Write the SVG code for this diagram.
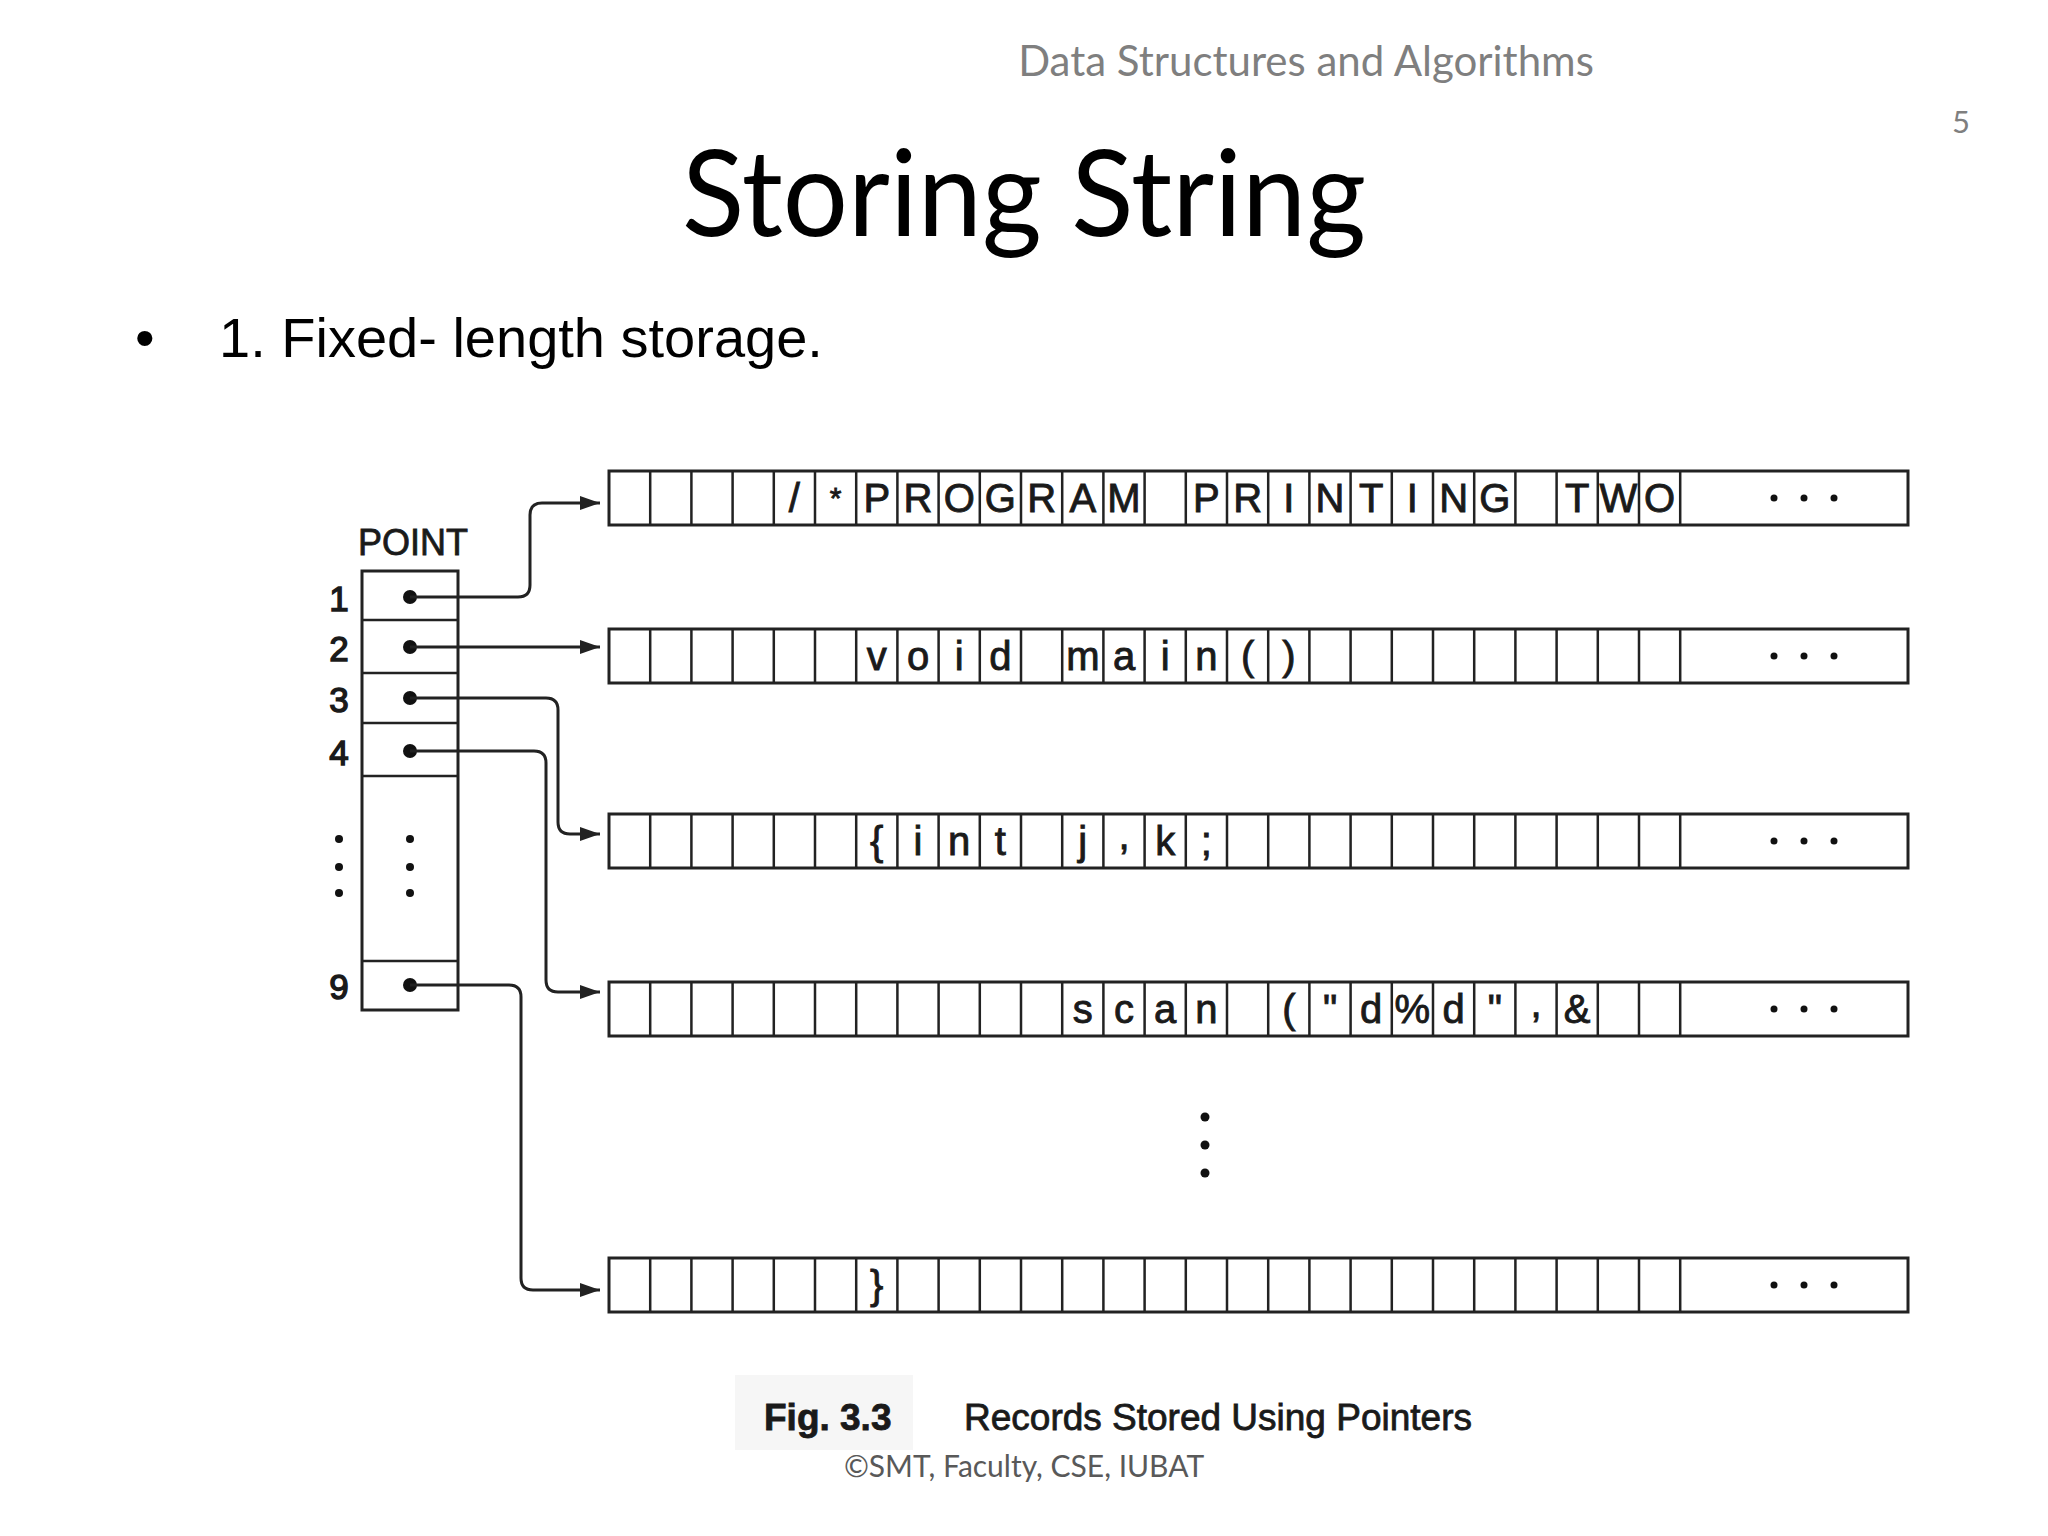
<svg xmlns="http://www.w3.org/2000/svg" xmlns:xlink="http://www.w3.org/1999/xlink" width="2048" height="1536" viewBox="0 0 2048 1536">
<style>
.hdr{font-family:Lato,"Open Sans","Noto Sans",sans-serif;fill:#7f7f7f}
.title{font-family:Lato,"Open Sans","Noto Sans",sans-serif;fill:#000}
.bul{font-family:"Liberation Sans",Arial,sans-serif;fill:#000;font-size:56px}
.fig{font-family:"Liberation Sans",Arial,sans-serif;fill:#1a1a1a;stroke:#1a1a1a;stroke-width:0.8}
.num{font-family:"Liberation Sans",Arial,sans-serif;fill:#1a1a1a;stroke:#1a1a1a;stroke-width:1.4;font-size:35px;text-anchor:middle}
.cell{font-family:"Liberation Sans",Arial,sans-serif;font-size:40px;fill:#1a1a1a;stroke:#1a1a1a;stroke-width:0.9;text-anchor:middle}
.row{fill:#fff;stroke:#222;stroke-width:3}
.div{fill:none;stroke:#222;stroke-width:2.5}
.conn{fill:none;stroke:#222;stroke-width:3}
.dot{fill:#111}
</style>
<defs>
<marker id="arr" markerUnits="userSpaceOnUse" markerWidth="22" markerHeight="16" refX="20" refY="7" orient="auto">
<path d="M0 0 L20 7 L0 14 Z" fill="#222"/>
</marker>
<path id="divs" class="div" d="M650.2 0v54M691.4 0v54M732.6 0v54M773.8 0v54M815 0v54M856.2 0v54M897.4 0v54M938.6 0v54M979.8 0v54M1021 0v54M1062.2 0v54M1103.4 0v54M1144.6 0v54M1185.8 0v54M1227 0v54M1268.2 0v54M1309.4 0v54M1350.6 0v54M1391.8 0v54M1433 0v54M1474.2 0v54M1515.4 0v54M1556.6 0v54M1597.8 0v54M1639 0v54M1680.2 0v54"/>
<g id="ell"><circle cx="1774" cy="0" r="3.5" class="dot"/><circle cx="1804" cy="0" r="3.5" class="dot"/><circle cx="1834" cy="0" r="3.5" class="dot"/></g>
</defs>
<rect width="2048" height="1536" fill="#fff"/>

<text class="hdr" x="1306" y="76" font-size="42" text-anchor="middle">Data Structures and Algorithms</text>
<text class="hdr" x="1961" y="133" font-size="31" text-anchor="middle">5</text>
<text class="title" x="1024" y="236" font-size="120" text-anchor="middle" textLength="684" lengthAdjust="spacingAndGlyphs">Storing String</text>
<text class="bul" x="135" y="357">•</text>
<text class="bul" x="219" y="357">1. Fixed- length storage.</text>

<g id="point">
<text class="fig" x="413" y="555" font-size="36" text-anchor="middle" stroke-width="1.2">POINT</text>
<rect x="362" y="571" width="96" height="439" fill="none" stroke="#222" stroke-width="3"/>
<path class="div" d="M362 620H458M362 673H458M362 723H458M362 776H458M362 961H458"/>
<g class="num">
<text x="339" y="611">1</text><text x="339" y="661">2</text><text x="339" y="712">3</text><text x="339" y="765">4</text><text x="339" y="999">9</text>
</g>
<circle cx="339" cy="839" r="4" class="dot"/><circle cx="339" cy="867" r="4" class="dot"/><circle cx="339" cy="893" r="4" class="dot"/>
<circle cx="410" cy="839" r="4" class="dot"/><circle cx="410" cy="867" r="4" class="dot"/><circle cx="410" cy="893" r="4" class="dot"/>
<circle cx="410" cy="597" r="7" class="dot"/><circle cx="410" cy="647" r="7" class="dot"/><circle cx="410" cy="698" r="7" class="dot"/><circle cx="410" cy="751" r="7" class="dot"/><circle cx="410" cy="985" r="7" class="dot"/>
</g>

<g id="connectors">
<path class="conn" marker-end="url(#arr)" d="M410 597H518Q530 597 530 585V515Q530 503 542 503H600"/>
<path class="conn" marker-end="url(#arr)" d="M410 647H600"/>
<path class="conn" marker-end="url(#arr)" d="M410 698H546Q558 698 558 710V822Q558 834 570 834H600"/>
<path class="conn" marker-end="url(#arr)" d="M410 751H534Q546 751 546 763V980Q546 992 558 992H600"/>
<path class="conn" marker-end="url(#arr)" d="M410 985H509Q521 985 521 997V1278Q521 1290 533 1290H600"/>
</g>

<g id="row1">
<rect class="row" x="609" y="471" width="1299" height="54"/>
<use xlink:href="#divs" transform="translate(0,471)"/>
<use xlink:href="#ell" transform="translate(0,498)"/>
<g class="cell">
<text x="794.4" y="512">/</text><text x="835.6" y="508" font-size="30">*</text>
<text x="876.8" y="512">P</text><text x="918" y="512">R</text><text x="959.2" y="512">O</text><text x="1000.4" y="512">G</text><text x="1041.6" y="512">R</text><text x="1082.8" y="512">A</text><text x="1124" y="512">M</text>
<text x="1206.4" y="512">P</text><text x="1247.6" y="512">R</text><text x="1288.8" y="512">I</text><text x="1330" y="512">N</text><text x="1371.2" y="512">T</text><text x="1412.4" y="512">I</text><text x="1453.6" y="512">N</text><text x="1494.8" y="512">G</text>
<text x="1577.2" y="512">T</text><text x="1618.4" y="512">W</text><text x="1659.6" y="512">O</text>
</g>
</g>

<g id="row2">
<rect class="row" x="609" y="629" width="1299" height="54"/>
<use xlink:href="#divs" transform="translate(0,629)"/>
<use xlink:href="#ell" transform="translate(0,656)"/>
<g class="cell">
<text x="876.8" y="670">v</text><text x="918" y="670">o</text><text x="959.2" y="670">i</text><text x="1000.4" y="670">d</text>
<text x="1082.8" y="670">m</text><text x="1124" y="670">a</text><text x="1165.2" y="670">i</text><text x="1206.4" y="670">n</text><text x="1247.6" y="670">(</text><text x="1288.8" y="670">)</text>
</g>
</g>

<g id="row3">
<rect class="row" x="609" y="814" width="1299" height="54"/>
<use xlink:href="#divs" transform="translate(0,814)"/>
<use xlink:href="#ell" transform="translate(0,841)"/>
<g class="cell">
<text x="876.8" y="855">{</text><text x="918" y="855">i</text><text x="959.2" y="855">n</text><text x="1000.4" y="855">t</text>
<text x="1082.8" y="855">j</text><text x="1124" y="849">,</text><text x="1165.2" y="855">k</text><text x="1206.4" y="855">;</text>
</g>
</g>

<g id="row4">
<rect class="row" x="609" y="982" width="1299" height="54"/>
<use xlink:href="#divs" transform="translate(0,982)"/>
<use xlink:href="#ell" transform="translate(0,1009)"/>
<g class="cell">
<text x="1082.8" y="1023">s</text><text x="1124" y="1023">c</text><text x="1165.2" y="1023">a</text><text x="1206.4" y="1023">n</text>
<text x="1288.8" y="1023">(</text><text x="1330" y="1023">"</text><text x="1371.2" y="1023">d</text><text x="1412.4" y="1023">%</text><text x="1453.6" y="1023">d</text><text x="1494.8" y="1023">"</text><text x="1536" y="1017">,</text><text x="1577.2" y="1023">&amp;</text>
</g>
</g>

<g id="vdots">
<circle cx="1205" cy="1117" r="4.5" class="dot"/><circle cx="1205" cy="1145" r="4.5" class="dot"/><circle cx="1205" cy="1173" r="4.5" class="dot"/>
</g>

<g id="row5">
<rect class="row" x="609" y="1258" width="1299" height="54"/>
<use xlink:href="#divs" transform="translate(0,1258)"/>
<use xlink:href="#ell" transform="translate(0,1285)"/>
<g class="cell">
<text x="876.8" y="1299">}</text>
</g>
</g>

<g id="caption">
<rect x="735" y="1375" width="178" height="75" fill="#e6e6e6" opacity="0.35"/>
<text class="fig" x="764" y="1430" font-size="37" font-weight="bold">Fig. 3.3</text>
<text class="fig" x="964" y="1430" font-size="37">Records Stored Using Pointers</text>
</g>

<text class="hdr" x="1024" y="1477" font-size="30" text-anchor="middle" style="fill:#595959">©SMT, Faculty, CSE, IUBAT</text>
</svg>
